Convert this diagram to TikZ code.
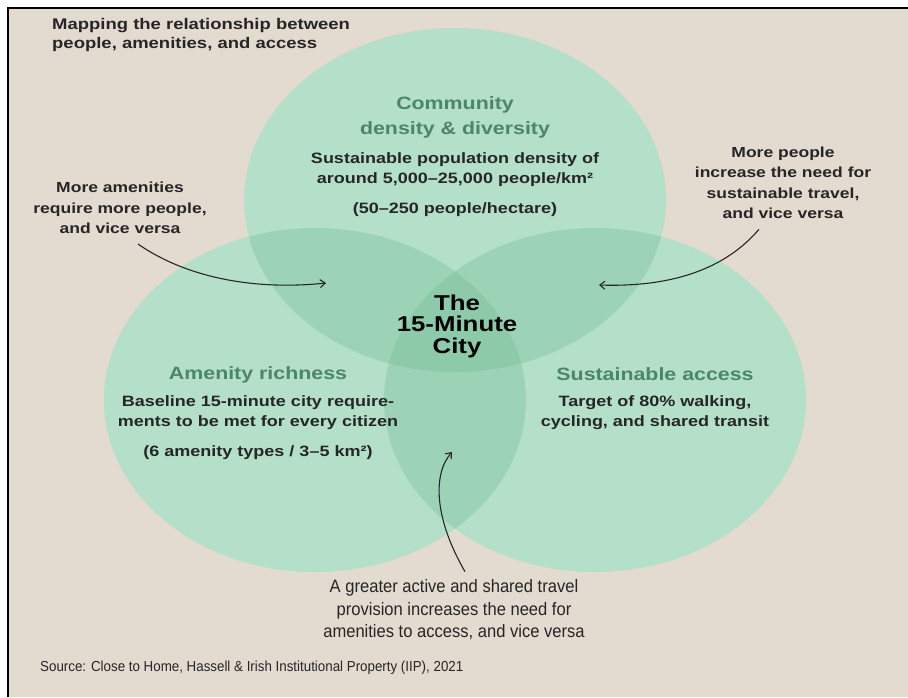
\documentclass[tikz,border=0pt]{standalone}
\usepackage{fontspec}
\setmainfont{Liberation Sans}
\newfontfamily\widefont[FakeStretch=1.2,Ligatures=TeX]{Liberation Sans}
\newfontfamily\narrowfont[FakeStretch=0.92,Ligatures=TeX]{Liberation Sans}
\usetikzlibrary{arrows.meta}

\definecolor{paper}{RGB}{227,218,208}
\definecolor{mint}{RGB}{180,224,201}
\definecolor{mintdark}{RGB}{156,211,182}
\definecolor{mintdeep}{RGB}{141,202,170}
\definecolor{leaf}{RGB}{76,134,102}
\definecolor{ink}{RGB}{38,38,38}

\begin{document}
\begin{tikzpicture}[x=1pt,y=-1pt,
	header/.style={font=\widefont\bfseries\fontsize{15.4}{19}\selectfont, text=ink, align=left, inner sep=0pt},
	title/.style={font=\widefont\bfseries\fontsize{17.8}{25}\selectfont, text=leaf, align=center, inner sep=0pt},
	body/.style={font=\widefont\bfseries\fontsize{15}{20}\selectfont, text=ink, align=center, inner sep=0pt},
	note/.style={font=\widefont\bfseries\fontsize{14.6}{20.5}\selectfont, text=ink, align=center, inner sep=0pt},
	core/.style={font=\widefont\bfseries\fontsize{21.5}{21.5}\selectfont, text=black, align=center, inner sep=0pt},
	caption/.style={font=\narrowfont\fontsize{18}{22.5}\selectfont, text=ink, align=center, inner sep=0pt},
	source/.style={font=\narrowfont\fontsize{14.5}{16}\selectfont, text=ink, inner sep=0pt},
	link/.style={-{Straight Barb[length=5pt,width=8pt]}, line width=1.1pt, draw=ink}]
	\useasboundingbox (0,0) rectangle (908,697);

	% Frame
	\fill[white] (0,0) rectangle (908,697);
	\fill[paper] (8,8) rectangle (908,697);
	\draw[line width=2pt] (8,697) -- (8,8) -- (908,8);

	% Circles
	\fill[mint] (455,200) ellipse [x radius=211, y radius=172];
	\fill[mint] (315,400) ellipse [x radius=211, y radius=172];
	\fill[mint] (595,400) ellipse [x radius=211, y radius=172];

	% Overlaps
	\begin{scope}
		\clip (455,200) ellipse [x radius=211, y radius=172];
		\fill[mintdark] (315,400) ellipse [x radius=211, y radius=172];
		\fill[mintdark] (595,400) ellipse [x radius=211, y radius=172];
	\end{scope}
	\begin{scope}
		\clip (315,400) ellipse [x radius=211, y radius=172];
		\fill[mintdark] (595,400) ellipse [x radius=211, y radius=172];
		\clip (595,400) ellipse [x radius=211, y radius=172];
		\fill[mintdeep] (455,200) ellipse [x radius=211, y radius=172];
	\end{scope}

	% Heading
	\node[header, anchor=north west] (header) at (52,18) {Mapping the relationship between\\people, amenities, and access};

	% Community
	\node[title] (commTitle) at (455,117) {Community\\density \& diversity};
	\node[body] (commBody) at (455,170) {Sustainable population density of\\around 5,000–25,000 people/km²};
	\node[body] (commNote) at (455,210) {(50–250 people/hectare)};

	% Centre
	\node[core] (city) at (457,326) {The\\15-Minute\\City};

	% Amenities
	\node[title] (amenTitle) at (258,375) {Amenity richness};
	\node[body] (amenBody) at (258,413) {Baseline 15-minute city require-\\ments to be met for every citizen};
	\node[body] (amenNote) at (258,453) {(6 amenity types / 3–5 km²)};

	% Access
	\node[title] (accTitle) at (655,374) {Sustainable access};
	\node[body] (accBody) at (655,413) {Target of 80\% walking,\\cycling, and shared transit};

	% Side notes
	\node[note] (peopleAmen) at (120,208) {More amenities\\require more people,\\and vice versa};
	\node[note] (peopleAcc) at (783,183) {More people\\increase the need for\\sustainable travel,\\and vice versa};
	\node[caption] (accAmen) at (454,610) {A greater active and shared travel\\provision increases the need for\\amenities to access, and vice versa};

	% Source
	\node[source, anchor=west] (source) at (40,668) {Source: Close to Home, Hassell \& Irish Institutional Property (IIP), 2021};

	% Arrows
	\coordinate (amenTip) at (326,283);
	\coordinate (accTip) at (599,285);
	\coordinate (cityTip) at (452,452);
	\draw[link] ([shift={(18,10)}]peopleAmen.south) .. controls (190,280) and (260,290) .. (amenTip);
	\draw[link] ([shift={(-24,10)}]peopleAcc.south) .. controls (720,275) and (660,287) .. (accTip);
	\draw[link] ([shift={(11,-8)}]accAmen.north) .. controls (435,520) and (432,475) .. (cityTip);

\end{tikzpicture}
\end{document}
